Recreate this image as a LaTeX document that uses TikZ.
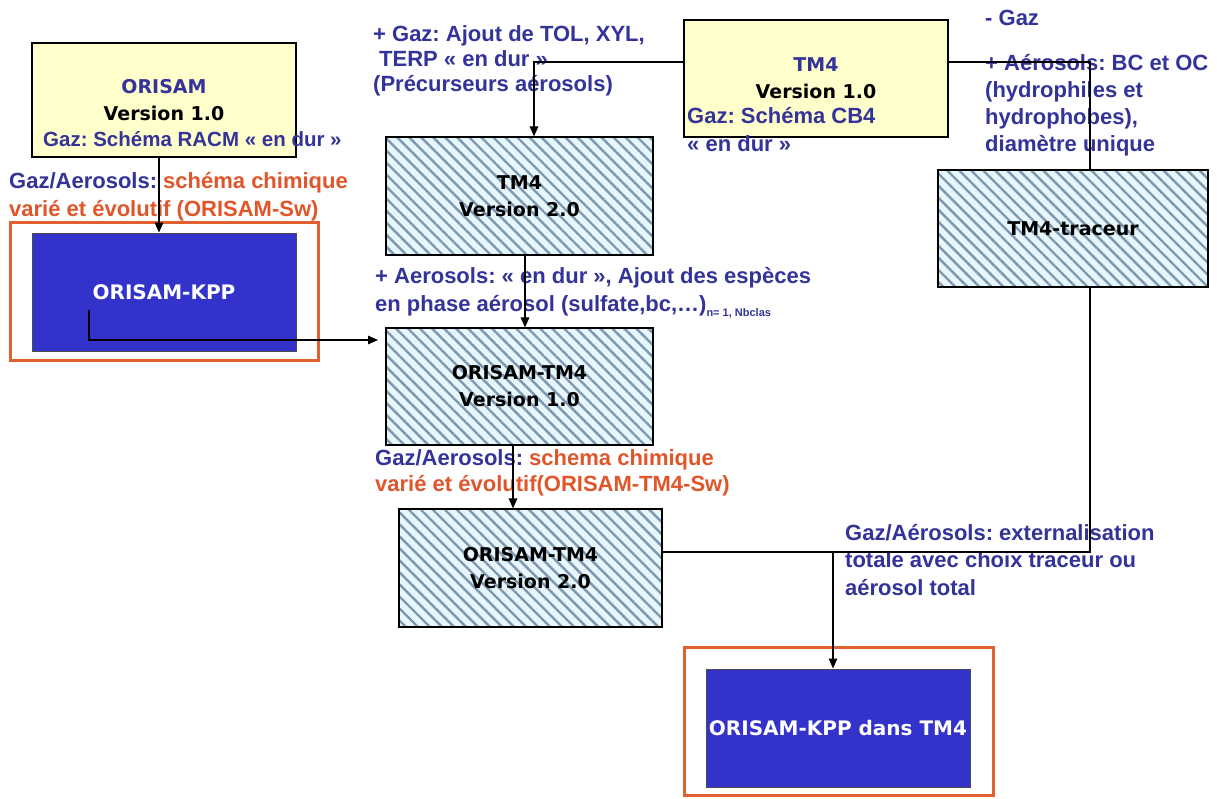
\documentclass[tikz,border=0pt]{standalone}
\usepackage{fontspec}
\setmainfont{Liberation Sans}
\newfontfamily\boxfont{DejaVu Sans}
\usetikzlibrary{arrows.meta,patterns.meta}
\definecolor{txtblue}{HTML}{333399}
\definecolor{txtred}{HTML}{E0562A}
\definecolor{boxyellow}{HTML}{FFFFCC}
\definecolor{hatchbg}{HTML}{E6F6FB}
\definecolor{hatchline}{HTML}{7F98B2}
\definecolor{kppblue}{HTML}{3333CC}
\definecolor{frameorange}{HTML}{E0602F}
\begin{document}
\begin{tikzpicture}[x=1pt,y=-1pt,
  ann/.style={anchor=north west, inner sep=0pt, align=left, text=txtblue,
    font=\fontsize{22}{#1}\selectfont\bfseries\frenchspacing},
  box/.style={draw=black, line width=1.2pt, inner sep=0pt, align=center,
    font=\boxfont\bfseries\fontsize{19}{27}\selectfont},
  yellowbox/.style={box, fill=boxyellow},
  hatchbox/.style={box, preaction={fill=hatchbg},
    preaction={pattern={Lines[angle=-45,distance=8.5pt,line width=2.4pt]}, pattern color=hatchline}},
  kppbox/.style={draw=black!70, line width=1pt, fill=kppblue, text=white, inner sep=0pt,
    font=\boxfont\bfseries\fontsize{20}{27}\selectfont},
  frame/.style={draw=frameorange, line width=3pt, inner sep=0pt},
  conn/.style={draw=black, line width=1.3pt},
  arr/.style={conn, -{Triangle[length=10pt,width=8.5pt]}}
]
\useasboundingbox[fill=white] (0,0) rectangle (1217,798);

% frames
\node[frame, minimum width=308pt, minimum height=138pt] (kppframe) at (164,291) {};
\node[frame, minimum width=309pt, minimum height=148pt] (kpp2frame) at (838.5,721) {};

% boxes
\node[yellowbox, minimum width=264pt, minimum height=114pt] (orisam) at (164,100)
  {\textcolor{txtblue}{ORISAM}\\Version 1.0};
\node[yellowbox, minimum width=264pt, minimum height=117pt] (tm4a) at (816,78.5)
  {\textcolor{txtblue}{TM4}\\Version 1.0};
\node[hatchbox, minimum width=267pt, minimum height=118pt] (tm4b) at (519.5,196)
  {TM4\\Version 2.0};
\node[hatchbox, minimum width=267pt, minimum height=117pt] (otm1) at (519.5,386.5)
  {ORISAM-TM4\\Version 1.0};
\node[hatchbox, minimum width=263pt, minimum height=118pt] (otm2) at (530.5,568)
  {ORISAM-TM4\\Version 2.0};
\node[hatchbox, minimum width=270pt, minimum height=117pt] (trac) at (1073,228.5)
  {TM4-traceur};
\node[kppbox, minimum width=264pt, minimum height=118pt] (kpp) at (164,292) {ORISAM-KPP};
\node[kppbox, minimum width=264pt, minimum height=118pt] (kpp2) at (838,728) {ORISAM-KPP dans TM4};

% annotations
\node[ann=25] (tA) at (373,23.4) {\strut+ Gaz: Ajout de TOL, XYL,\\\hspace*{6pt}TERP « en dur »\\(Précurseurs aérosols)};
\node[ann=27, font=\fontsize{20.5}{27}\selectfont\bfseries\frenchspacing] (tB) at (43,127.5) {\strut Gaz: Schéma RACM « en dur »};
\node[ann=28] (tC) at (9,168.3) {\strut Gaz/Aerosols: \textcolor{txtred}{schéma chimique}\\\textcolor{txtred}{varié et évolutif (ORISAM-Sw)}};
\node[ann=28] (tD) at (687,103.3) {\strut Gaz: Schéma CB4\\« en dur »};
\node[ann=27] (tE) at (985,6) {\strut- Gaz};
\node[ann=27] (tF) at (985,51) {\strut+ Aérosols: BC et OC\\(hydrophiles et\\hydrophobes),\\diamètre unique};
\node[ann=28] (tG) at (375,263.3) {\strut+ Aerosols: « en dur », Ajout des espèces\\en phase aérosol (sulfate,bc,…)\raisebox{-5pt}{\fontsize{11}{11}\selectfont n= 1, Nbclas}};
\node[ann=26] (tH) at (375,446.7) {\strut Gaz/Aerosols: \textcolor{txtred}{schema chimique}\\\textcolor{txtred}{varié et évolutif(ORISAM-TM4-Sw)}};
\node[ann=27.5] (tI) at (845,520.6) {\strut Gaz/Aérosols: externalisation\\totale avec choix traceur ou\\aérosol total};

% connectors
\draw[arr] ([xshift=-5pt]orisam.south) -- ([xshift=-5pt]kpp.north);
\coordinate (kppin) at (89,310);
\coordinate (kppend) at (378,340);
\draw[arr] (kppin) |- (kppend);
\draw[arr] ([yshift=16.5pt]tm4a.west) -| ([xshift=14.5pt]tm4b.north);
\draw[arr] ([xshift=5.5pt]tm4b.south) -- ([xshift=5.5pt]otm1.north);
\draw[arr] ([xshift=-6.5pt]otm1.south) -- ([xshift=-17.5pt]otm2.north);
\draw[conn] ([yshift=16.5pt]tm4a.east) -| ([xshift=17pt]trac.north);
\draw[conn] ([xshift=17pt]trac.south) |- ([yshift=16pt]otm2.east);
\coordinate (join) at (833,552);
\draw[arr] (join) -- (join |- kpp2.north);
\end{tikzpicture}
\end{document}
